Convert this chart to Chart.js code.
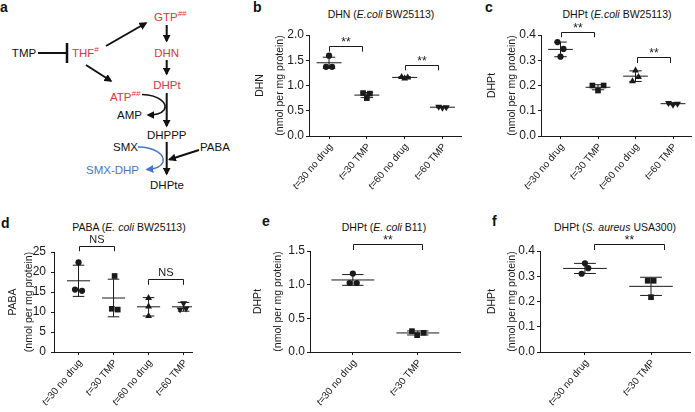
<!DOCTYPE html>
<html>
<head>
<meta charset="utf-8">
<script src="https://cdn.jsdelivr.net/npm/chart.js@4.4.1/dist/chart.umd.min.js"></script>
<style>
  body { margin: 0; background: #fff; }
  #fig { position: relative; width: 695px; height: 412px; overflow: hidden; font-family: 'Liberation Sans', Arial, sans-serif; color: #111; }
  canvas { position: absolute; }
  .lbl { position: absolute; font-weight: bold; font-size: 14px; line-height: 14px; }
  .ttl { position: absolute; font-size: 10.5px; transform: translate(-50%, -50%); white-space: nowrap; }
</style>
</head>
<body>
<div id="fig">
  <!-- panel a: pathway sketch -->
  <svg width="245" height="205" style="position:absolute;left:0;top:0" font-family="'Liberation Sans', Arial, sans-serif" font-size="11.5">
    <defs>
      <marker id="ah" viewBox="0 0 10 10" refX="8" refY="5" markerWidth="8" markerHeight="8" markerUnits="userSpaceOnUse" orient="auto"><path d="M0,0 L10,5 L0,10 z" fill="#111"/></marker>
      <marker id="ahb" viewBox="0 0 10 10" refX="8" refY="5" markerWidth="8" markerHeight="8" markerUnits="userSpaceOnUse" orient="auto"><path d="M0,0 L10,5 L0,10 z" fill="#4677c6"/></marker>
    </defs>
    <g stroke="#111" stroke-width="2" fill="none">
      <line x1="38" y1="53" x2="66" y2="53"/>
      <line x1="67" y1="43" x2="67" y2="63" stroke-width="2.5"/>
      <line x1="106" y1="46" x2="146" y2="23" marker-end="url(#ah)"/>
      <line x1="166.7" y1="25" x2="166.7" y2="41" marker-end="url(#ah)"/>
      <line x1="166.7" y1="60" x2="166.7" y2="74" marker-end="url(#ah)"/>
      <line x1="86" y1="65" x2="111" y2="81" marker-end="url(#ah)"/>
      <line x1="166.7" y1="93" x2="166.7" y2="126" marker-end="url(#ah)"/>
      <line x1="166.7" y1="142" x2="166.7" y2="174" marker-end="url(#ah)"/>
      <line x1="199" y1="150" x2="169.5" y2="159.5" marker-end="url(#ah)"/>
      <path d="M142,94.5 C160,95 168,104 164,110 C161,114 155,115 148,115" stroke-width="1.5" marker-end="url(#ah)"/>
      <path d="M138,147 C155,147 165,155 163,162 C161,167 155,169 147,169.5" stroke="#4677c6" stroke-width="1.5" marker-end="url(#ahb)"/>
    </g>
    <g fill="#111">
      <text x="24" y="57" text-anchor="middle">TMP</text>
      <text x="117" y="119">AMP</text>
      <text x="166.7" y="139" text-anchor="middle">DHPPP</text>
      <text x="113" y="151">SMX</text>
      <text x="200" y="151">PABA</text>
      <text x="167" y="189" text-anchor="middle">DHPte</text>
    </g>
    <g fill="#e2353a">
      <text x="72" y="57">THF<tspan dy="-5" font-size="8" font-style="italic">#</tspan></text>
      <text x="154" y="21">GTP<tspan dy="-5" font-size="8" font-style="italic">##</tspan></text>
      <text x="166.7" y="57" text-anchor="middle">DHN</text>
      <text x="167" y="89" text-anchor="middle">DHPt</text>
      <text x="110" y="101">ATP<tspan dy="-5" font-size="8" font-style="italic">##</tspan></text>
    </g>
    <text x="86" y="174" fill="#4677c6">SMX-DHP</text>
  </svg>

  <div class="lbl" style="left:0px;top:0px">a</div>
  <div class="lbl" style="left:253px;top:0px">b</div>
  <div class="lbl" style="left:485px;top:0px">c</div>
  <div class="lbl" style="left:1px;top:216px">d</div>
  <div class="lbl" style="left:262px;top:214px">e</div>
  <div class="lbl" style="left:492px;top:214px">f</div>

  <div class="ttl" style="left:381px;top:14px">DHN (<i>E.coli</i> BW25113)</div>
  <div class="ttl" style="left:617px;top:14px">DHPt (<i>E.coli</i> BW25113)</div>
  <div class="ttl" style="left:129px;top:227px">PABA (<i>E. coli</i> BW25113)</div>
  <div class="ttl" style="left:384px;top:227px">DHPt (<i>E. coli</i> B11)</div>
  <div class="ttl" style="left:615px;top:227px">DHPt (<i>S. aureus</i> USA300)</div>

  <canvas id="chartB" width="215" height="200" style="left:250px;top:0px"></canvas>
  <canvas id="chartC" width="213" height="200" style="left:482px;top:0px"></canvas>
  <canvas id="chartD" width="200" height="207" style="left:5px;top:205px"></canvas>
  <canvas id="chartE" width="220" height="207" style="left:248px;top:205px"></canvas>
  <canvas id="chartF" width="213" height="207" style="left:482px;top:205px"></canvas>
</div>
<script>
Chart.defaults.font.family = "'Liberation Sans', Arial, sans-serif";
Chart.defaults.color = '#111';
const ink = '#1a1a1a';

const groups4 = ['t=30 no drug', 't=30 TMP', 't=60 no drug', 't=60 TMP'];
const groups2 = ['t=30 no drug', 't=30 TMP'];
const unitLabel = '(nmol per mg protein)';

// b - DHN, E. coli BW25113
const dhnBW = [[1.59, 1.37, 1.37], [0.85, 0.84, 0.75], [1.17, 1.16, 1.14], [0.58, 0.57, 0.56]];
const dhnBWMean = [1.45, 0.81, 1.16, 0.57];
const dhnBWSd = [0.11, 0.05, 0.015, 0.01];

// c - DHPt, E. coli BW25113
const dhptBW = [[0.372, 0.345, 0.314], [0.2, 0.2, 0.18], [0.259, 0.234, 0.217], [0.131, 0.128, 0.124]];
const dhptBWMean = [0.343, 0.193, 0.237, 0.128];
const dhptBWSd = [0.029, 0.01, 0.021, 0.004];

// d - PABA, E. coli BW25113
const pabaBW = [[22.4, 15.6, 15.3], [19.0, 10.8, 10.6], [13.5, 11.4, 9.0], [12.2, 10.6, 10.9]];
const pabaBWMean = [17.8, 13.5, 11.3, 11.3];
const pabaBWSd = [3.9, 4.7, 2.3, 1.1];

// e - DHPt, E. coli B11
const dhptB11 = [[1.165, 1.025, 1.025], [0.31, 0.25, 0.285]];
const dhptB11Mean = [1.07, 0.283];
const dhptB11Sd = [0.08, 0.03];

// f - DHPt, S. aureus USA300
const dhptSA = [[0.351, 0.332, 0.31], [0.282, 0.282, 0.217]];
const dhptSAMean = [0.331, 0.26];
const dhptSASd = [0.02, 0.036];

// horizontal scatter of the replicate dots (category units)
const jitterB = [[0, -0.08, 0.08], [-0.1, 0.08, 0], [-0.08, 0.08, 0], [-0.1, 0.1, 0]];
const jitterC = [[-0.08, 0.08, 0], [-0.15, 0.15, 0], [0, 0.08, -0.08], [-0.12, 0.12, 0]];
const jitterD = [[0, -0.1, 0.1], [0.03, -0.05, 0.12], [0, 0, 0], [0, -0.1, 0.07]];
const jitterE = [[0, -0.05, 0.06], [-0.09, -0.01, 0.09]];
const jitterF = [[0, 0.05, -0.05], [-0.05, 0.04, 0]];

const symbols = [
  { style: 'circle', rot: 0, r: 3.1 },
  { style: 'rect', rot: 0, r: 4 },
  { style: 'triangle', rot: 0, r: 4 },
  { style: 'triangle', rot: 180, r: 4 },
];

const fontOf = (size, italic) => (italic ? 'italic ' : '') + size + "px 'Liberation Sans', Arial, sans-serif";
const labelAngle = 50 * Math.PI / 180;

// significance brackets + slanted group labels (italic "t")
const extrasPlugin = (groups, brackets) => ({
  id: 'extras',
  afterDraw(chart) {
    const { ctx, chartArea, scales: { x, y } } = chart;
    ctx.save();
    ctx.strokeStyle = ink;
    ctx.fillStyle = ink;
    ctx.lineWidth = 1;
    ctx.textAlign = 'center';
    ctx.textBaseline = 'alphabetic';
    brackets.forEach(([from, to, top, leg, text]) => {
      const x0 = Math.round(x.getPixelForValue(from)) + 0.5;
      const x1 = Math.round(x.getPixelForValue(to)) + 0.5;
      const yt = Math.round(y.getPixelForValue(top)) + 0.5;
      const yl = y.getPixelForValue(leg);
      ctx.beginPath();
      ctx.moveTo(x0, yl);
      ctx.lineTo(x0, yt);
      ctx.lineTo(x1, yt);
      ctx.lineTo(x1, yl);
      ctx.stroke();
      const ns = text === 'NS';
      ctx.font = fontOf(ns ? 11 : 12);
      ctx.fillText(text, (x0 + x1) / 2, ns ? yt - 4 : yt - 1);
    });

    ctx.textAlign = 'left';
    ctx.textBaseline = 'middle';
    groups.forEach((g, i) => {
      const head = g.slice(0, 1);
      const rest = g.slice(1);
      ctx.font = fontOf(10, true);
      const wh = ctx.measureText(head).width;
      ctx.font = fontOf(10);
      const wr = ctx.measureText(rest).width;
      ctx.save();
      ctx.translate(x.getPixelForValue(i) + 2, chartArea.bottom + 9);
      ctx.rotate(-labelAngle);
      ctx.font = fontOf(10, true);
      ctx.fillText(head, -(wh + wr), 0);
      ctx.font = fontOf(10);
      ctx.fillText(rest, -wr, 0);
      ctx.restore();
    });
    ctx.restore();
  },
});

const makeDotChart = (id, box, groups, points, means, sds, jitter, yAxis, brackets) => {
  const datasets = points.map((vals, i) => ({
    data: vals.map((v, k) => ({ x: i + jitter[i][k], y: v })),
    pointStyle: symbols[i].style,
    rotation: symbols[i].rot,
    pointRadius: symbols[i].r,
    backgroundColor: ink,
    borderColor: ink,
    borderWidth: 0,
  }));
  const bars = [];
  means.forEach((m, i) => {
    const hi = m + sds[i];
    const lo = m - sds[i];
    bars.push({ x: i - 0.33, y: m }, { x: i + 0.33, y: m }, { x: i, y: null });
    bars.push({ x: i, y: lo }, { x: i, y: hi }, { x: i, y: null });
    bars.push({ x: i - 0.165, y: hi }, { x: i + 0.165, y: hi }, { x: i, y: null });
    bars.push({ x: i - 0.165, y: lo }, { x: i + 0.165, y: lo }, { x: i, y: null });
  });
  datasets.push({
    type: 'line',
    data: bars,
    borderColor: ink,
    borderWidth: 1,
    pointRadius: 0,
    spanGaps: false,
    fill: false,
    tension: 0,
  });

  const config = {
    type: 'scatter',
    data: { datasets: datasets },
    options: {
      responsive: false,
      animation: false,
      events: [],
      layout: {
        padding: { top: box.axisTop - box.top, right: box.left + box.width - box.axisRight, left: 0, bottom: 0 },
      },
      plugins: { legend: { display: false }, tooltip: { enabled: false } },
      scales: {
        x: {
          type: 'linear',
          min: box.xMin,
          max: box.xMax,
          afterBuildTicks: (s) => {
            s.ticks = groups.map((g, i) => ({ value: i }));
          },
          afterFit: (s) => {
            s.height = box.top + box.height - box.axisBottom;
          },
          ticks: { display: false },
          grid: { drawOnChartArea: false, tickLength: 3, color: ink },
          border: { color: ink, width: 1 },
        },
        y: {
          min: 0,
          max: yAxis.max,
          afterFit: (s) => {
            s.width = box.axisLeft - box.left;
          },
          ticks: {
            stepSize: yAxis.step,
            callback: (v) => v.toFixed(yAxis.digits),
            padding: yAxis.pad,
            color: ink,
            font: { size: 12 },
          },
          grid: { drawOnChartArea: false, tickLength: 3, color: ink },
          border: { color: ink, width: 1 },
          title: {
            display: true,
            text: [yAxis.title, unitLabel],
            color: ink,
            font: { size: 10.5, lineHeight: yAxis.lh + 'px' },
            padding: 0,
          },
        },
      },
    },
    plugins: [extrasPlugin(groups, brackets)],
  };
  new Chart(document.getElementById(id), config);
};

makeDotChart('chartB',
  { left: 250, top: 0, width: 215, height: 200, axisLeft: 309, axisRight: 463, axisTop: 35, axisBottom: 136, xMin: -0.53, xMax: 3.49 },
  groups4, dhnBW, dhnBWMean, dhnBWSd, jitterB,
  { max: 2, step: 0.5, digits: 1, pad: 2, lh: 20, title: 'DHN' },
  [[0, 0.88, 1.78, 1.67, '**'], [2, 2.88, 1.41, 1.3, '**']]);

makeDotChart('chartC',
  { left: 482, top: 0, width: 213, height: 200, axisLeft: 541, axisRight: 694, axisTop: 35, axisBottom: 136, xMin: -0.52, xMax: 3.48 },
  groups4, dhptBW, dhptBWMean, dhptBWSd, jitterC,
  { max: 0.4, step: 0.1, digits: 1, pad: 2, lh: 20, title: 'DHPt' },
  [[0, 0.89, 0.413, 0.391, '**'], [2.04, 2.93, 0.311, 0.289, '**']]);

makeDotChart('chartD',
  { left: 5, top: 205, width: 200, height: 207, axisLeft: 54, axisRight: 192, axisTop: 252, axisBottom: 352, xMin: -0.7, xMax: 3.24 },
  groups4, pabaBW, pabaBWMean, pabaBWSd, jitterD,
  { max: 25, step: 5, digits: 0, pad: 5, lh: 16, title: 'PABA' },
  [[0, 1.0, 26.5, 25.2, 'NS'], [1.98, 2.97, 18.2, 16.8, 'NS']]);

makeDotChart('chartE',
  { left: 248, top: 205, width: 220, height: 207, axisLeft: 310, axisRight: 460, axisTop: 251, axisBottom: 352, xMin: -0.66, xMax: 1.65 },
  groups2, dhptB11, dhptB11Mean, dhptB11Sd, jitterE,
  { max: 1.5, step: 0.5, digits: 1, pad: 2, lh: 20, title: 'DHPt' },
  [[0, 1.07, 1.6, 1.515, '**']]);

makeDotChart('chartF',
  { left: 482, top: 205, width: 213, height: 207, axisLeft: 540, axisRight: 690, axisTop: 251, axisBottom: 352, xMin: -0.68, xMax: 1.59 },
  groups2, dhptSA, dhptSAMean, dhptSASd, jitterF,
  { max: 0.4, step: 0.1, digits: 1, pad: 2, lh: 20, title: 'DHPt' },
  [[0.14, 1.2, 0.427, 0.404, '**']]);
</script>
</body>
</html>
